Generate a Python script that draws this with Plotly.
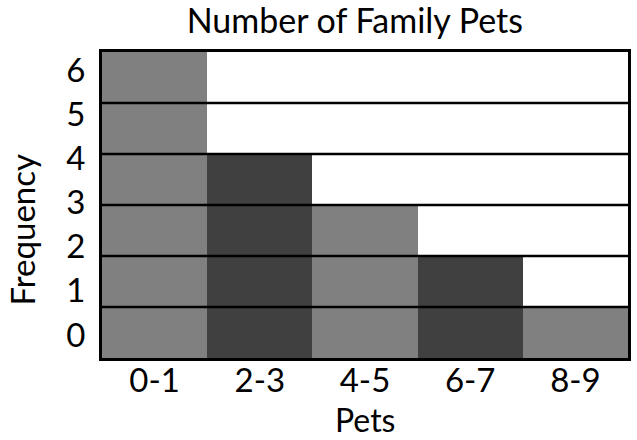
import plotly.graph_objects as go

# Histogram data: number of pets per family, grouped in bins of two
bins = ["0-1", "2-3", "4-5", "6-7", "8-9"]
frequency = [6, 4, 3, 2, 1]
bar_colors = ["#808080", "#404040", "#808080", "#404040", "#808080"]
freq_ticks = [0, 1, 2, 3, 4, 5, 6]

FONT = "Lato"
y_max = max(frequency)

fig = go.Figure()
fig.add_trace(go.Bar(
    x=bins, y=frequency,
    marker=dict(color=bar_colors, line=dict(width=0)),
    hoverinfo="x+y",
))
# invisible helper so the label axis is rendered
fig.add_trace(go.Scatter(
    x=[bins[0]], y=[0], yaxis="y2", mode="markers",
    marker=dict(opacity=0), hoverinfo="skip", showlegend=False,
))

# level lines drawn on top of the bars
shapes = [
    dict(type="line", xref="paper", x0=0, x1=1, yref="y", y0=lvl, y1=lvl,
         line=dict(color="black", width=2.5), layer="above")
    for lvl in range(1, y_max)
]

fig.update_layout(
    width=637, height=440,
    margin=dict(l=102, r=6, t=52, b=82),
    paper_bgcolor="white", plot_bgcolor="white",
    bargap=0, showlegend=False,
    font=dict(family=FONT, color="black", size=33),
    title=dict(text="Number of Family Pets", x=0.557, xanchor="center",
               y=0.952, yanchor="middle", font=dict(size=34)),
    xaxis=dict(
        type="category", showgrid=False, showline=True, mirror=True,
        linecolor="black", linewidth=3, ticks="", tickfont=dict(size=33),
        ticklabelstandoff=-9,
    ),
    yaxis=dict(
        range=[0, y_max], showgrid=False, showticklabels=False,
        showline=True, mirror=True, linecolor="black", linewidth=3,
        ticks="", zeroline=False,
    ),
    yaxis2=dict(
        overlaying="y", side="left", anchor="x",
        range=[-0.52, 6.41], tickvals=freq_ticks,
        showgrid=False, zeroline=False, showline=False,
        ticks="outside", ticklen=9, tickcolor="rgba(0,0,0,0)",
        tickfont=dict(size=33),
    ),
    shapes=shapes,
    annotations=[
        dict(text="Frequency", textangle=-90, xref="paper", yref="paper",
             x=0, y=0.42, xanchor="center", yanchor="middle", xshift=-80,
             showarrow=False, font=dict(size=33)),
        dict(text="Pets", xref="paper", yref="paper",
             x=0.5, y=0, xanchor="center", yanchor="bottom", yshift=-82,
             borderpad=0, showarrow=False, font=dict(size=32)),
    ],
)

fig.write_html("out.html")
